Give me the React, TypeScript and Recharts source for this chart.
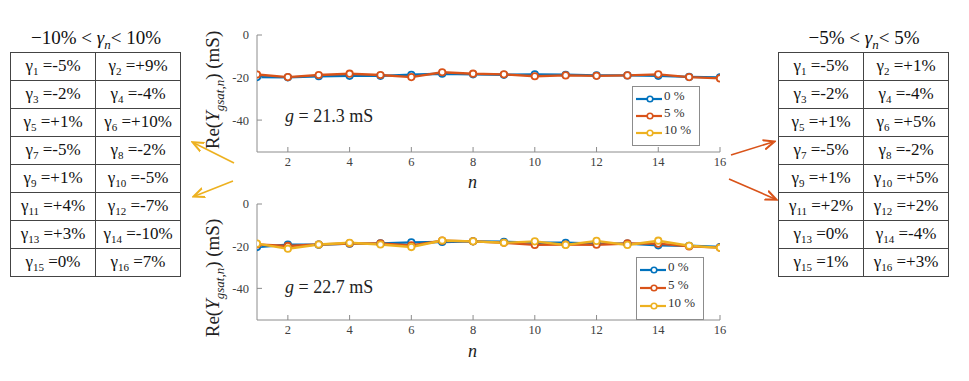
import React from "react";
import { LineChart, Line, XAxis, YAxis } from "recharts";

const N = [1, 2, 3, 4, 5, 6, 7, 8, 9, 10, 11, 12, 13, 14, 15, 16];

// g = 21.3 mS panel
const TOP_0 = [-19.8, -19.9, -19.4, -19.2, -19.2, -18.7, -18.2, -18.5, -18.7, -18.5, -18.7, -19.0, -19.0, -19.2, -19.7, -19.9];
const TOP_5 = [-18.6, -19.8, -18.8, -18.2, -18.8, -19.8, -17.5, -18.2, -18.5, -19.4, -19.0, -19.2, -19.0, -18.5, -19.8, -20.4];

// g = 22.7 mS panel
const BOT_0 = [-20.4, -19.3, -19.3, -18.8, -18.7, -18.2, -18.0, -17.7, -17.9, -18.4, -18.4, -18.8, -18.8, -19.6, -19.8, -20.4];
const BOT_5 = [-19.2, -19.9, -19.2, -18.7, -18.7, -19.6, -17.4, -17.7, -18.4, -19.4, -19.2, -19.3, -18.7, -18.8, -20.1, -20.7];
const BOT_10 = [-18.8, -21.2, -19.2, -18.4, -19.2, -20.4, -17.3, -17.7, -18.4, -17.7, -19.4, -17.5, -19.4, -17.4, -19.8, -20.8];

const X_TICKS = [2, 4, 6, 8, 10, 12, 14, 16];
const Y_TICKS = [0, -20, -40];
const Y_DOMAIN: [number, number] = [-55, 0];

const SERIES = [
  { key: "p0", name: "0 %", color: "#0072BD" },
  { key: "p5", name: "5 %", color: "#D95319" },
  { key: "p10", name: "10 %", color: "#EDB120" },
];

const GAMMA_WIDE = ["-5%", "+9%", "-2%", "-4%", "+1%", "+10%", "-5%", "-2%", "+1%", "-5%", "+4%", "-7%", "+3%", "-10%", "0%", "7%"];
const GAMMA_NARROW = ["-5%", "+1%", "-2%", "-4%", "+1%", "+5%", "-5%", "-2%", "+1%", "+5%", "+2%", "+2%", "0%", "-4%", "1%", "+3%"];

const SERIF = "Liberation Serif, DejaVu Serif, serif";
const BOX = "#8c8c8c";
const TICK = { fontSize: 12.5, fill: "#404040", fontFamily: SERIF, style: { fontFamily: SERIF } };

const topData = N.map((n, i) => ({ n, p0: TOP_0[i], p5: TOP_5[i] }));
const botData = N.map((n, i) => ({ n, p0: BOT_0[i], p5: BOT_5[i], p10: BOT_10[i] }));

const noTick = () => <g />;

function Panel({ top, data, keys, mt, mb }: { top: number; data: any[]; keys: string[]; mt: number; mb: number }) {
  return (
    <div style={{ position: "absolute", left: 220, top, width: 510, height: 160 }}>
      <LineChart width={510} height={160} data={data} margin={{ top: mt, right: 10, left: 7, bottom: mb }}>
        <XAxis
          xAxisId="b" dataKey="n" type="number" domain={[1, 16]} ticks={X_TICKS} height={25}
          tick={TICK} tickSize={-5} tickMargin={10} stroke={BOX} allowDataOverflow
        />
        <XAxis
          xAxisId="t" orientation="top" dataKey="n" type="number" domain={[1, 16]} ticks={X_TICKS} height={0}
          tick={noTick} tickSize={-5} stroke={BOX} allowDataOverflow
        />
        <YAxis
          yAxisId="l" type="number" domain={Y_DOMAIN} ticks={Y_TICKS} width={30}
          tick={TICK} tickSize={-5} tickMargin={13} stroke={BOX} allowDataOverflow
        />
        <YAxis
          yAxisId="r" orientation="right" type="number" domain={Y_DOMAIN} ticks={Y_TICKS} width={0}
          tick={noTick} tickSize={-5} stroke={BOX} allowDataOverflow
        />
        {SERIES.filter((s) => keys.includes(s.key)).map((s) => (
          <Line
            key={s.key}
            xAxisId="b"
            yAxisId="l"
            dataKey={s.key}
            stroke={s.color}
            strokeWidth={2.4}
            dot={{ r: 3.2, stroke: s.color, strokeWidth: 1.8, fill: "#fff" }}
            isAnimationActive={false}
          />
        ))}
      </LineChart>
    </div>
  );
}

function LegendBox({ left, top, gap }: { left: number; top: number; gap: number }) {
  return (
    <div
      style={{
        position: "absolute", left, top, width: 64, padding: "3px 0 4px 2px",
        border: `1px solid ${BOX}`, background: "#fff", fontFamily: SERIF, fontSize: 13, color: "#333",
      }}
    >
      {SERIES.map((s) => (
        <div key={s.key} style={{ display: "flex", alignItems: "center", height: gap }}>
          <svg width={28} height={10}>
            <line x1={1} y1={5} x2={27} y2={5} stroke={s.color} strokeWidth={2.2} />
            <circle cx={15} cy={5} r={2.8} stroke={s.color} strokeWidth={1.6} fill="#fff" />
          </svg>
          <span style={{ marginLeft: 1, marginTop: -6 }}>{s.name}</span>
        </div>
      ))}
    </div>
  );
}

function YLabel({ cy }: { cy: number }) {
  return (
    <div
      style={{
        position: "absolute", left: 215, top: cy, transform: "translate(-50%, -50%) rotate(-90deg)",
        whiteSpace: "nowrap", fontFamily: SERIF, fontSize: 19, color: "#222",
      }}
    >
      Re(<i>Y</i>
      <sub style={{ fontSize: 13 }}>
        <i>gsat,n</i>
      </sub>
      ) (mS)
    </div>
  );
}

function GammaTable({ left, top, title, values }: { left: number; top: number; title: React.ReactNode; values: string[] }) {
  const rows = [];
  for (let i = 0; i < values.length; i += 2) rows.push([i, i + 1]);
  return (
    <div style={{ position: "absolute", left, top, fontFamily: SERIF, color: "#111", width: 172 }}>
      <div style={{ textAlign: "center", fontSize: 19, height: 25, lineHeight: "22px", fontFamily: SERIF }}>{title}</div>
      <table style={{ borderCollapse: "collapse", fontSize: 17, fontFamily: SERIF, color: "#111" }}>
        <tbody>
          {rows.map((r) => (
            <tr key={r[0]}>
              {r.map((k) => (
                <td
                  key={k}
                  style={{
                    border: "1.5px solid #444", width: 84, height: 27, padding: 0, textAlign: "center",
                    whiteSpace: "nowrap", fontFamily: SERIF, fontSize: 17,
                  }}
                >
                  γ<sub style={{ fontSize: 11 }}>{k + 1}</sub> ={values[k]}
                </td>
              ))}
            </tr>
          ))}
        </tbody>
      </table>
    </div>
  );
}

function Arrows() {
  const yel = "#EDB120";
  const ora = "#D95319";
  return (
    <svg width={969} height={381} style={{ position: "absolute", left: 0, top: 0, pointerEvents: "none" }}>
      <defs>
        <marker id="ahY" markerWidth="8" markerHeight="8" refX="6" refY="4" orient="auto">
          <path d="M0,1 L7,4 L0,7" fill="none" stroke={yel} strokeWidth={1.3} />
        </marker>
        <marker id="ahO" markerWidth="8" markerHeight="8" refX="6" refY="4" orient="auto">
          <path d="M0,1 L7,4 L0,7" fill="none" stroke={ora} strokeWidth={1.3} />
        </marker>
      </defs>
      <line x1={234} y1={163} x2={194} y2={143} stroke={yel} strokeWidth={1.6} markerEnd="url(#ahY)" />
      <line x1={233} y1={181} x2={195} y2={196} stroke={yel} strokeWidth={1.6} markerEnd="url(#ahY)" />
      <line x1={731} y1={155} x2={773} y2={142} stroke={ora} strokeWidth={1.6} markerEnd="url(#ahO)" />
      <line x1={729} y1={179} x2={775} y2={199} stroke={ora} strokeWidth={1.6} markerEnd="url(#ahO)" />
    </svg>
  );
}

const gText = (v: string) => (
  <span>
    <i>g</i> = {v} mS
  </span>
);

export default function App() {
  return (
    <div style={{ position: "absolute", left: 0, top: 0, width: 969, height: 381, background: "#fff", overflow: "hidden" }}>
      <GammaTable
        left={10}
        top={27}
        title={<span>−10% &lt; <i>γ</i><sub style={{ fontSize: 13 }}><i>n</i></sub>&lt; 10%</span>}
        values={GAMMA_WIDE}
      />
      <GammaTable
        left={778}
        top={27}
        title={<span>−5% &lt; <i>γ</i><sub style={{ fontSize: 13 }}><i>n</i></sub>&lt; 5%</span>}
        values={GAMMA_NARROW}
      />

      <Panel top={20} data={topData} keys={["p0", "p5"]} mt={15} mb={3} />
      <Panel top={190} data={botData} keys={["p0", "p5", "p10"]} mt={14} mb={5} />

      <LegendBox left={632} top={86} gap={17} />
      <LegendBox left={636} top={257} gap={18} />

      <YLabel cy={90} />
      <YLabel cy={278} />

      <div style={{ position: "absolute", left: 285, top: 106, fontFamily: SERIF, fontSize: 18, color: "#222" }}>{gText("21.3")}</div>
      <div style={{ position: "absolute", left: 285, top: 277, fontFamily: SERIF, fontSize: 18, color: "#222" }}>{gText("22.7")}</div>

      <div style={{ position: "absolute", left: 468, top: 172, fontFamily: SERIF, fontSize: 18, fontStyle: "italic", color: "#222" }}>n</div>
      <div style={{ position: "absolute", left: 468, top: 341, fontFamily: SERIF, fontSize: 18, fontStyle: "italic", color: "#222" }}>n</div>

      <Arrows />
    </div>
  );
}
